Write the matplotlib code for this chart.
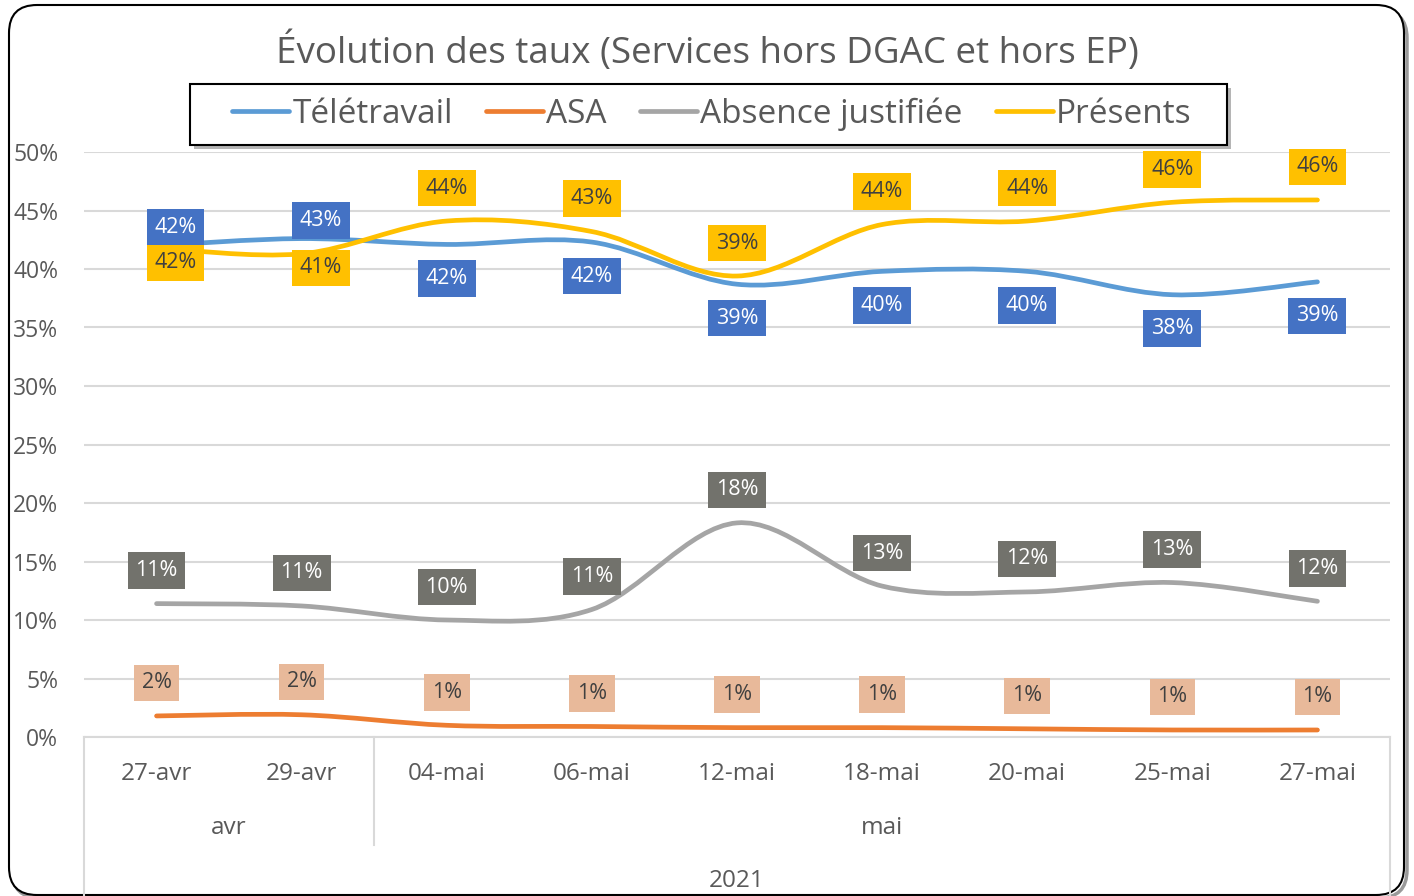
import numpy as np
import matplotlib
matplotlib.use('Agg')
import matplotlib.pyplot as plt
from matplotlib.path import Path
from matplotlib.patches import PathPatch, FancyBboxPatch, Rectangle
from matplotlib.lines import Line2D
from matplotlib.ticker import FuncFormatter

plt.rcParams['font.family'] = ['Open Sans', 'DejaVu Sans']

# data (in %)
dates = ['27-avr', '29-avr', '04-mai', '06-mai', '12-mai', '18-mai', '20-mai', '25-mai', '27-mai']
months = ['avr', 'mai']
month_span = [(0, 1), (2, 8)]
year = '2021'

teletravail = [42.0, 42.6, 42.1, 42.3, 38.7, 39.8, 39.8, 37.8, 38.9]
asa = [1.8, 1.9, 1.0, 0.9, 0.8, 0.8, 0.7, 0.6, 0.6]
absence = [11.4, 11.2, 10.0, 10.9, 18.3, 12.9, 12.4, 13.2, 11.6]
presents = [41.8, 41.3, 44.1, 43.2, 39.4, 43.8, 44.1, 45.7, 45.9]

GRID = '#D9D9D9'
TXT = '#595959'
W, H = 1414, 896


def smooth_path(xs, ys):
    # bezier curve through the points, catmull-rom style tangents (like excel smoothing)
    pts = np.column_stack([xs, ys]).astype(float)
    verts = [pts[0]]
    codes = [Path.MOVETO]
    n = len(pts)
    for i in range(n - 1):
        p0 = pts[i - 1] if i > 0 else pts[i]
        p1 = pts[i]
        p2 = pts[i + 1]
        p3 = pts[i + 2] if i + 2 < n else pts[i + 1]
        c1 = p1 + (p2 - p0) / 6.0
        c2 = p2 - (p3 - p1) / 6.0
        verts += [c1, c2, p2]
        codes += [Path.CURVE4] * 3
    return Path(verts, codes)


fig = plt.figure(figsize=(W / 100, H / 100), dpi=100)

# outer rounded frame with a bit of shadow
shadow = FancyBboxPatch((0.12, -0.02), 13.95, 8.88, boxstyle='round,pad=0,rounding_size=0.28',
                        transform=fig.dpi_scale_trans, fc='none', ec='#9a9a9a', lw=2.5, zorder=-2)
frame = FancyBboxPatch((0.09, 0.01), 13.95, 8.90, boxstyle='round,pad=0,rounding_size=0.28',
                       transform=fig.dpi_scale_trans, fc='white', ec='black', lw=1.5, zorder=-1)
fig.patches.extend([shadow, frame])

ax = fig.add_axes([84 / W, 1 - 737 / H, (1390 - 84) / W, 585 / H])
ax.set_facecolor('none')
x = np.arange(len(dates))
ax.set_xlim(-0.5, len(dates) - 0.5)
ax.set_ylim(0, 50)
ax.set_yticks(np.arange(0, 51, 5))
ax.yaxis.set_major_formatter(FuncFormatter(lambda v, p: f'{v:.0f}%'))
ax.grid(axis='y', color=GRID, lw=1.5)
ax.set_axisbelow(True)
for s in ['top', 'right', 'left']:
    ax.spines[s].set_visible(False)
ax.spines['bottom'].set_color(GRID)
ax.spines['bottom'].set_linewidth(1.5)
ax.tick_params(axis='y', length=0, pad=18.5, labelsize=16.5, labelcolor=TXT)
ax.set_xticks(x)
ax.set_xticklabels(dates)
ax.tick_params(axis='x', length=0, pad=18, labelsize=17.5, labelcolor=TXT)

# multi-level category axis
xt = ax.get_xaxis_transform()
for (a, b), m in zip(month_span, months):
    ax.text((a + b) / 2, -0.156, m, transform=xt, ha='center', va='center', fontsize=17.5, color=TXT)
ax.text(np.mean(x), -0.247, year, transform=xt, ha='center', va='center', fontsize=17.5, color=TXT)
for xv, y0 in [(-0.5, -0.3), (1.5, -0.185), (len(dates) - 0.5, -0.3)]:
    ax.plot([xv, xv], [0, y0], transform=xt, color=GRID, lw=1.5, clip_on=False)

# label offsets in pixels (dy > 0 means below the point); first two dates of
# Télétravail / Présents are nudged right like in the original
tele_dy = [-18, -18, 34, 34, 34, 34, 34, 34, 34]
pres_dy = [15, 14, -33, -33, -33, -33, -33, -33, -33]
nudge_dx = [19, 19, 0, 0, 0, 0, 0, 0, 0]
series = [
    ('Télétravail', teletravail, '#5B9BD5', '#4472C4', 'white', tele_dy, nudge_dx),
    ('ASA', asa, '#ED7D31', '#E8B99A', '#404040', [-33] * 9, [0] * 9),
    ('Absence justifiée', absence, '#A5A5A5', '#72726C', 'white', [-33] * 9, [0] * 9),
    ('Présents', presents, '#FFC000', '#FFC000', '#404040', pres_dy, nudge_dx),
]

handles = []
for name, vals, lc, bc, tc, dys, dxs in series:
    patch = PathPatch(smooth_path(x, vals), fc='none', ec=lc, lw=3.4, capstyle='round', joinstyle='round', zorder=3)
    ax.add_patch(patch)
    handles.append(Line2D([], [], color=lc, lw=3.4, solid_capstyle='round'))
    for xi, v, dy, dx in zip(x, vals, dys, dxs):
        ax.annotate(f'{round(v)}%', (xi, v), xytext=(dx * 0.72, -dy * 0.72), textcoords='offset points',
                    ha='center', va='center', fontsize=15.5, color=tc, zorder=5,
                    bbox=dict(boxstyle='square,pad=0.36', fc=bc, ec='none'))

fig.text(0.5, 1 - 52 / H, 'Évolution des taux (Services hors DGAC et hors EP)',
         ha='center', va='center', fontsize=26.5, color=TXT)

# legend box drawn by hand (wider side padding than matplotlib's frame)
lx0, ly0, lx1, ly1 = 190, 84, 1227, 145
fig.patches.append(Rectangle(((lx0 + 4) / W, 1 - (ly1 + 4) / H), (lx1 - lx0) / W, (ly1 - ly0) / H,
                             transform=fig.transFigure, fc='#b5b5b5', ec='none', zorder=1))
fig.patches.append(Rectangle((lx0 / W, 1 - ly1 / H), (lx1 - lx0) / W, (ly1 - ly0) / H,
                             transform=fig.transFigure, fc='white', ec='black', lw=1.5, zorder=1.5))
leg = fig.legend(handles, [s[0] for s in series], loc='center', bbox_to_anchor=(712 / W, 1 - 114 / H),
                 ncol=4, frameon=False, fontsize=24, handlelength=1.7, handletextpad=0.1,
                 columnspacing=1.0, borderpad=0.4)
leg.set_zorder(2)
for t in leg.get_texts():
    t.set_color(TXT)

fig.savefig('out.png', dpi=100)
